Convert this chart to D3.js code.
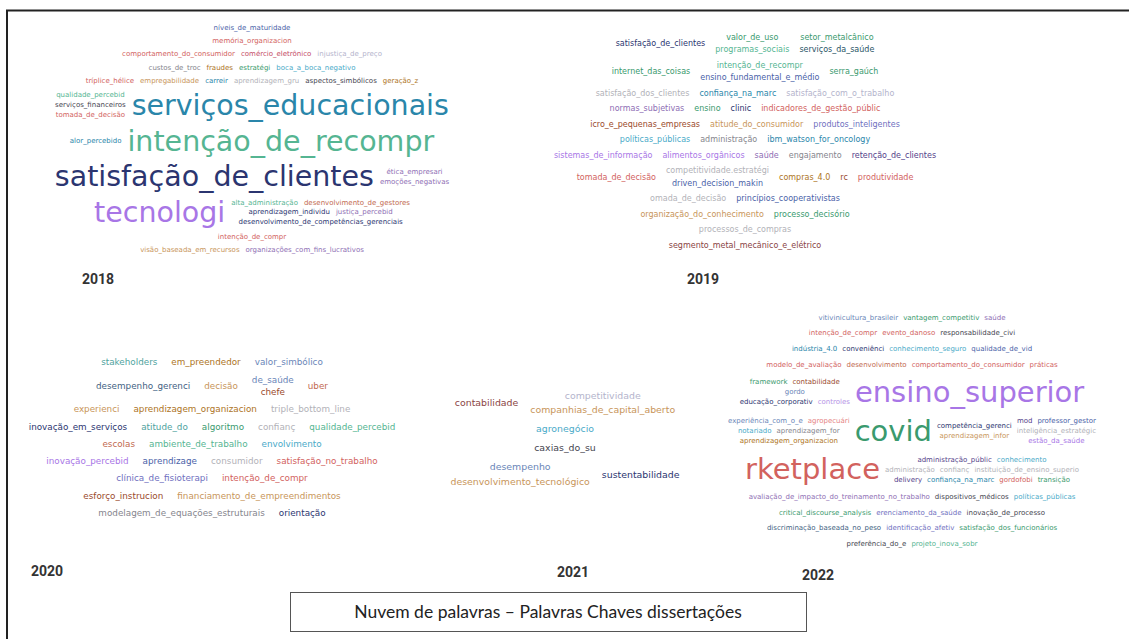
<!DOCTYPE html>
<html>
<head>
<meta charset="utf-8">
<script src="https://cdn.jsdelivr.net/npm/d3@7"></script>
<style>
body { margin: 0; background: #fff; }
svg text { font-family: "DejaVu Sans", sans-serif; }
</style>
</head>
<body>
<svg id="chart" width="1129" height="639"></svg>
<script>

// each word: [text, frequency, colour group]; a cloud is a list of rows,
// nested arrays alternate column / row grouping
const years = ["2018", "2019", "2020", "2021", "2022"];
const caption = "Nuvem de palavras – Palavras Chaves dissertações";

const cloud2018 = [
	[["níveis_de_maturidade", 1, "b"]],
	[["memória_organizacion", 1, "r"]],
	[["comportamento_do_consumidor", 1, "r"], ["comércio_eletrônico", 1, "rd"], ["injustiça_de_preço", 1, "lv"]],
	[["custos_de_troc", 1, "gy"], ["fraudes", 1, "or"], ["estratégi", 1, "g"], ["boca_a_boca_negativo", 1, "tl"]],
	[["tríplice_hélice", 1, "r"], ["empregabilidade", 1, "o"], ["carreir", 1, "t"], ["aprendizagem_gru", 1, "lg"], ["aspectos_simbólicos", 1, "k"], ["geração_z", 1, "or"]],
	[[["qualidade_percebid", 1, "gl"], ["serviços_financeiros", 1, "k"], ["tomada_de_decisão", 1, "r"]], ["serviços_educacionais", 5, "t"]],
	[["alor_percebido", 1, "t"], ["intenção_de_recompr", 5, "gl"]],
	[["satisfação_de_clientes", 5, "n"], [["ética_empresari", 1, "pl"], ["emoções_negativas", 1, "pl"]]],
	[["tecnologi", 5, "p"], [[["alta_administração", 1, "gl"], ["desenvolvimento_de_gestores", 1, "rb"]], [["aprendizagem_individu", 1, "n"], ["justiça_percebid", 1, "pl"]], ["desenvolvimento_de_competências_gerenciais", 1, "n"]]],
	[["intenção_de_compr", 1, "r"]],
	[["visão_baseada_em_recursos", 1, "o"], ["organizações_com_fins_lucrativos", 1, "pl"]]
];

const cloud2019 = [
	[["satisfação_de_clientes", 1, "n"], [["valor_de_uso", 1, "g"], ["programas_sociais", 1, "gl"]], [["setor_metalcânico", 1, "g"], ["serviços_da_saúde", 1, "dt"]]],
	[["internet_das_coisas", 1, "g"], [["intenção_de_recompr", 1, "gl"], ["ensino_fundamental_e_médio", 1, "b"]], ["serra_gaúch", 1, "g"]],
	[["satisfação_dos_clientes", 1, "lg"], ["confiança_na_marc", 1, "t"], ["satisfação_com_o_trabalho", 1, "lv"]],
	[["normas_subjetivas", 1, "pl"], ["ensino", 1, "g"], ["clinic", 1, "n"], ["indicadores_de_gestão_públic", 1, "r"]],
	[["icro_e_pequenas_empresas", 1, "br"], ["atitude_do_consumidor", 1, "o"], ["produtos_inteligentes", 1, "pb"]],
	[["políticas_públicas", 1, "tl"], ["administração", 1, "gy"], ["ibm_watson_for_oncology", 1, "t"]],
	[["sistemas_de_informação", 1, "p"], ["alimentos_orgânicos", 1, "p"], ["saúde", 1, "pl"], ["engajamento", 1, "gy"], ["retenção_de_clientes", 1, "pd"]],
	[["tomada_de_decisão", 1, "r"], [["competitividade.estratégi", 1, "lg"], ["driven_decision_makin", 1, "b"]], ["compras_4.0", 1, "or"], ["rc", 1, "br"], ["produtividade", 1, "r"]],
	[["omada_de_decisão", 1, "lg"], ["princípios_cooperativistas", 1, "b"]],
	[["organização_do_conhecimento", 1, "o"], ["processo_decisório", 1, "g"]],
	[["processos_de_compras", 1, "lg"]],
	[["segmento_metal_mecânico_e_elétrico", 1, "mr"]]
];

const cloud2020 = [
	[["stakeholders", 1, "tg"], ["em_preendedor", 1, "or"], ["valor_simbólico", 1, "bl"]],
	[["desempenho_gerenci", 1, "sb"], ["decisão", 1, "o"], [["de_saúde", 1, "bl"], ["chefe", 1, "br"]], ["uber", 1, "rb"]],
	[["experienci", 1, "o"], ["aprendizagem_organizacion", 1, "or"], ["triple_bottom_line", 1, "lg"]],
	[["inovação_em_serviços", 1, "n"], ["atitude_do", 1, "tg"], ["algoritmo", 1, "g"], ["confianç", 1, "lg"], ["qualidade_percebid", 1, "gl"]],
	[["escolas", 1, "rb"], ["ambiente_de_trabalho", 1, "gl"], ["envolvimento", 1, "tl"]],
	[["inovação_percebid", 1, "p"], ["aprendizage", 1, "b"], ["consumidor", 1, "lg"], ["satisfação_no_trabalho", 1, "r"]],
	[["clínica_de_fisioterapi", 1, "pb"], ["intenção_de_compr", 1, "r"]],
	[["esforço_instrucion", 1, "br"], ["financiamento_de_empreendimentos", 1, "o"]],
	[["modelagem_de_equações_estruturais", 1, "gy"], ["orientação", 1, "n"]]
];

const cloud2021 = [
	[["contabilidade", 1, "mr"], [["competitividade", 1, "lv"], ["companhias_de_capital_aberto", 1, "o"]]],
	[["agronegócio", 1, "tl"]],
	[["caxias_do_su", 1, "k"]],
	[[["desempenho", 1, "bl"], ["desenvolvimento_tecnológico", 1, "o"]], ["sustentabilidade", 1, "n"]]
];

const cloud2022 = [
	[["vitivinicultura_brasileir", 1, "bl"], ["vantagem_competitiv", 1, "g"], ["saúde", 1, "pl"]],
	[["intenção_de_compr", 1, "r"], ["evento_danoso", 1, "r"], ["responsabilidade_civi", 1, "k"]],
	[["indústria_4.0", 1, "t"], ["conveniênci", 1, "n"], ["conhecimento_seguro", 1, "tl"], ["qualidade_de_vid", 1, "b"]],
	[["modelo_de_avaliação", 1, "r"], ["desenvolvimento", 1, "rb"], ["comportamento_do_consumidor", 1, "r"], ["práticas", 1, "r"]],
	[[[["framework", 1, "g"], ["contabilidade", 1, "br"]], ["gordo", 1, "bl"], [["educação_corporativ", 1, "n"], ["controles", 1, "pp"]]], ["ensino_superior", 5, "p"]],
	[[[["experiência_com_o_e", 1, "bl"], ["agropecuári", 1, "rl"]], [["notariado", 1, "tl"], ["aprendizagem_for", 1, "gy"]], ["aprendizagem_organizacion", 1, "or"]],
		["covid", 5, "g"],
		[["competência_gerenci", 1, "n"], ["aprendizagem_infor", 1, "o"]],
		[[["mod", 1, "pd"], ["professor_gestor", 1, "b"]], ["inteligência_estratégic", 1, "lg"], ["estão_da_saúde", 1, "p"]]],
	[["rketplace", 5, "r"], [[["administração_públic", 1, "pd"], ["conhecimento", 1, "tl"]], [["administração", 1, "lg"], ["confianç", 1, "lg"], ["instituição_de_ensino_superio", 1, "lg"]], [["delivery", 1, "pd"], ["confiança_na_marc", 1, "t"], ["gordofobi", 1, "r"], ["transição", 1, "g"]]]],
	[["avaliação_de_impacto_do_treinamento_no_trabalho", 1, "pl"], ["dispositivos_médicos", 1, "k"], ["políticas_públicas", 1, "tl"]],
	[["critical_discourse_analysis", 1, "g"], ["erenciamento_da_saúde", 1, "pb"], ["inovação_de_processo", 1, "k"]],
	[["discriminação_baseada_no_peso", 1, "sb"], ["identificação_afetiv", 1, "pb"], ["satisfação_dos_funcionários", 1, "g"]],
	[["preferência_do_e", 1, "k"], ["projeto_inova_sobr", 1, "gl"]]
];

const clouds = [cloud2018, cloud2019, cloud2020, cloud2021, cloud2022];

// colour groups
const palette = {
	n: "#2b3570", b: "#4a62a8", bl: "#6a86b8", sb: "#3f5f82", t: "#2a86aa", tl: "#4aaac8",
	dt: "#2a5566", tg: "#4fa39e", g: "#3a9a6e", gl: "#55b592", r: "#d2625e", rd: "#c44a66",
	rb: "#c26a50", rl: "#e58484", or: "#ad7424", o: "#c8955a", br: "#9a4a2c", mr: "#8a4444",
	p: "#a876e6", pp: "#b593e6", pl: "#8e6eb4", pb: "#6f70c0", pd: "#54428a", lv: "#b4b4cc",
	k: "#45454f", gy: "#85858d", lg: "#b2b2b8"
};
const color = d3.scaleOrdinal().domain(Object.keys(palette)).range(Object.values(palette));

// panel frames
const panels = [
	{cx: 252, top: 23, bottom: 254, fmin: 7, fmax: 28.5, gap: 6, vgap: 1.5, label: [82, 284]},
	{cx: 745, top: 32, bottom: 250, fmin: 8, fmax: 8, gap: 10, vgap: 3, label: [687, 284]},
	{cx: 212, top: 357, bottom: 518, fmin: 8.8, fmax: 8.8, gap: 14, vgap: 2, label: [31, 576]},
	{cx: 565, top: 390, bottom: 487, fmin: 9.4, fmax: 9.4, gap: 12, vgap: 3, label: [557, 577]},
	{cx: 912, top: 313, bottom: 548, fmin: 7, fmax: 29, gap: 5, vgap: 1.5, label: [802, 580]}
];

const svg = d3.select("#chart");

// frame
svg.append("line").attr("x1", 6).attr("x2", 1129).attr("y1", 10.5).attr("y2", 10.5)
	.attr("stroke", "#222").attr("stroke-width", 2);
svg.append("line").attr("x1", 7).attr("x2", 7).attr("y1", 10).attr("y2", 639)
	.attr("stroke", "#222").attr("stroke-width", 2);

function isWord(node) { return typeof node[0] === "string"; }

function build(node, depth, g, size, p) {
	if (isWord(node)) {
		const fs = size(node[1]);
		const t = g.append("text")
			.text(node[0])
			.attr("font-size", fs)
			.attr("fill", color(node[2]));
		return {word: true, t: t, w: t.node().getComputedTextLength(), h: fs * (node[1] > 1 ? 1.08 : 1.2)};
	}
	const kids = node.map(n => build(n, depth + 1, g, size, p));
	const isRow = depth % 2 === 1;
	if (isRow) {
		return {row: true, kids: kids,
			w: d3.sum(kids, k => k.w) + p.gap * (kids.length - 1),
			h: d3.max(kids, k => k.h)};
	}
	return {row: false, kids: kids,
		w: d3.max(kids, k => k.w),
		h: d3.sum(kids, k => k.h) + p.vgap * (kids.length - 1)};
}

function place(n, x, y, p) {
	if (n.word) {
		n.t.attr("x", x).attr("y", y + n.h / 2).attr("dy", "0.35em");
	} else if (n.row) {
		let cx = x;
		n.kids.forEach(k => { place(k, cx, y + (n.h - k.h) / 2, p); cx += k.w + p.gap; });
	} else {
		let cy = y;
		n.kids.forEach(k => { place(k, x + (n.w - k.w) / 2, cy, p); cy += k.h + p.vgap; });
	}
}

clouds.forEach((cloud, i) => {
	const p = panels[i];
	const size = d3.scaleLinear().domain([1, 5]).range([p.fmin, p.fmax]);
	const g = svg.append("g").attr("class", "cloud-" + years[i]);
	const rows = cloud.map(r => build(r, 1, g, size, p));
	const extra = (p.bottom - p.top - d3.sum(rows, r => r.h)) / (rows.length - 1);
	let y = p.top;
	rows.forEach(r => {
		place(r, p.cx - r.w / 2, y, p);
		y += r.h + extra;
	});

	svg.append("text")
		.attr("x", p.label[0])
		.attr("y", p.label[1])
		.style("font-family", "Roboto, sans-serif")
		.attr("font-weight", 700)
		.attr("font-size", 14)
		.attr("fill", "#333")
		.text(years[i]);
});

// caption box
svg.append("rect")
	.attr("x", 290.5).attr("y", 592.5).attr("width", 516).attr("height", 39)
	.attr("fill", "#fff").attr("stroke", "#555").attr("stroke-width", 1);
svg.append("text")
	.attr("x", 548).attr("y", 617.5)
	.attr("text-anchor", "middle")
	.style("font-family", "Lato, sans-serif")
	.attr("font-size", 17.5)
	.attr("fill", "#222")
	.text(caption);
</script>
</body>
</html>
